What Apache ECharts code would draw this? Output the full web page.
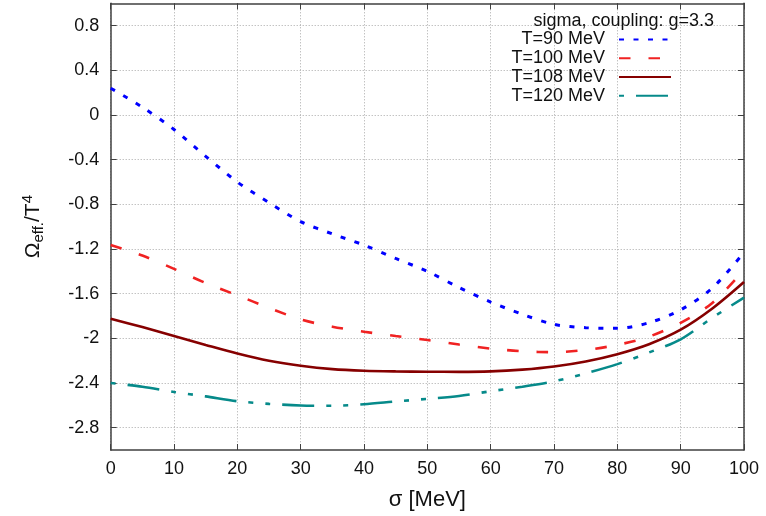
<!DOCTYPE html>
<html>
<head>
<meta charset="utf-8">
<script src="https://cdn.jsdelivr.net/npm/echarts@6/dist/echarts.min.js"></script>
<style>
html,body{margin:0;padding:0;background:#fff;}
#chart{width:766px;height:516px;}
</style>
</head>
<body>
<div id="chart"></div>
<script>
// sigma [MeV]
const sigma = [0,5,10,15,20,25,30,35,40,45,50,55,60,65,70,75,80,85,90,95,100];
// Omega_eff / T^4 for each temperature
const t90  = [0.24,0.07,-0.13,-0.37,-0.60,-0.785,-0.955,-1.065,-1.165,-1.285,-1.40,-1.545,-1.675,-1.785,-1.875,-1.905,-1.91,-1.86,-1.745,-1.55,-1.23];
const t100 = [-1.164,-1.259,-1.378,-1.505,-1.615,-1.727,-1.831,-1.896,-1.941,-1.979,-2.015,-2.056,-2.092,-2.116,-2.124,-2.104,-2.059,-1.985,-1.861,-1.683,-1.387];
const t108 = [-1.825,-1.899,-1.979,-2.059,-2.136,-2.201,-2.246,-2.276,-2.290,-2.296,-2.299,-2.300,-2.296,-2.280,-2.252,-2.207,-2.142,-2.053,-1.923,-1.733,-1.496];
const t120 = [-2.400,-2.433,-2.480,-2.520,-2.563,-2.587,-2.601,-2.604,-2.590,-2.565,-2.542,-2.516,-2.474,-2.433,-2.385,-2.314,-2.231,-2.127,-2.009,-1.816,-1.635];
const seriesNames = ['T=90 MeV','T=100 MeV','T=108 MeV','T=120 MeV'];
const yTicks = [-2.8,-2.4,-2,-1.6,-1.2,-0.8,-0.4,0,0.4,0.8];
const legendTitle = 'sigma, coupling: g=3.3';

const FONT = '"Liberation Sans", Arial, sans-serif';
const axisCol = '#404040';
const gridLine = {show:true, lineStyle:{color:'#a8a8a8', width:1, type:[1,2]}};

function pairs(v){ return sigma.map((s,i)=>[s, v[i]]); }

const chart = echarts.init(document.getElementById('chart'));
chart.setOption({
  animation:false,
  backgroundColor:'#fff',
  textStyle:{fontFamily:FONT},
  title:{text:legendTitle, right:52, top:12, padding:0,
    textStyle:{fontFamily:FONT, fontSize:18, fontWeight:'normal', color:'#111'}},
  legend:{
    orient:'vertical', align:'right', right:94, top:30, padding:0,
    itemWidth:52, itemHeight:10, itemGap:0,
    itemStyle:{opacity:0, color:'rgba(0,0,0,0)', borderWidth:0, borderColor:'rgba(0,0,0,0)'},
    textStyle:{fontFamily:FONT, fontSize:18, color:'#111', lineHeight:18.8, padding:[0,9,0,0]},
    data:seriesNames
  },
  grid:{left:110.7, right:22, top:3.3, bottom:63.5, containLabel:false},
  xAxis:[{
    type:'value', min:0, max:100, interval:10, position:'bottom',
    axisLine:{show:true, onZero:false, lineStyle:{color:axisCol, width:1.5}},
    axisTick:{show:true, inside:true, length:6, lineStyle:{color:axisCol, width:1}},
    axisLabel:{fontFamily:FONT, fontSize:18, color:'#111', margin:10},
    splitLine:gridLine,
    name:'σ [MeV]', nameLocation:'middle', nameGap:39,
    nameTextStyle:{fontFamily:FONT, fontSize:22, color:'#111'}
  },{
    type:'value', min:0, max:100, interval:10, position:'top',
    axisLine:{show:true, onZero:false, lineStyle:{color:axisCol, width:1.5}},
    axisTick:{show:true, inside:true, length:6, lineStyle:{color:axisCol, width:1}},
    axisLabel:{show:false}, splitLine:{show:false}
  }],
  yAxis:[{
    type:'value', min:-3, max:1, position:'left',
    axisLine:{show:true, onZero:false, lineStyle:{color:axisCol, width:1.5}},
    axisTick:{show:true, inside:true, length:6, customValues:yTicks, lineStyle:{color:axisCol, width:1}},
    axisLabel:{fontFamily:FONT, fontSize:18, color:'#111', margin:11.5, customValues:yTicks,
      formatter:v=>String(Math.round(v*10)/10)},
    splitLine:Object.assign({customValues:yTicks}, gridLine),
    name:'{b|Ω}{sub|eff.}{b|/T}{sup|4}', nameLocation:'middle', nameGap:64, nameRotate:90,
    nameTextStyle:{fontFamily:FONT, fontSize:21, color:'#111',
      rich:{
        b:{fontFamily:FONT, fontSize:21, color:'#111', lineHeight:26},
        sub:{fontFamily:FONT, fontSize:15, color:'#111', lineHeight:15, verticalAlign:'bottom'},
        sup:{fontFamily:FONT, fontSize:15, color:'#111', lineHeight:15, verticalAlign:'top'}
      }}
  },{
    type:'value', min:-3, max:1, position:'right',
    axisLine:{show:true, onZero:false, lineStyle:{color:axisCol, width:1.5}},
    axisTick:{show:true, inside:true, length:6, customValues:yTicks, lineStyle:{color:axisCol, width:1}},
    axisLabel:{show:false}, splitLine:{show:false}
  }],
  series:[
    {name:seriesNames[0], type:'line', data:pairs(t90), smooth:0.3, symbol:'none', color:'#0000ff',
      lineStyle:{color:'#0000ff', width:3, type:[5,9.5], cap:'butt'}, z:3},
    {name:seriesNames[1], type:'line', data:pairs(t100), smooth:0.3, symbol:'none', color:'#f02222',
      lineStyle:{color:'#f02222', width:2.6, type:[11.5,18], cap:'butt'}, z:3},
    {name:seriesNames[2], type:'line', data:pairs(t108), smooth:0.3, symbol:'none', color:'#860000',
      lineStyle:{color:'#860000', width:2.6, type:'solid'}, z:3},
    {name:seriesNames[3], type:'line', data:pairs(t120), smooth:0.3, symbol:'none', color:'#068a8a',
      lineStyle:{color:'#068a8a', width:2.6, type:[32,12,5,12,5,12], dashOffset:61, cap:'butt'}, z:3}
  ]
});
</script>
</body>
</html>
